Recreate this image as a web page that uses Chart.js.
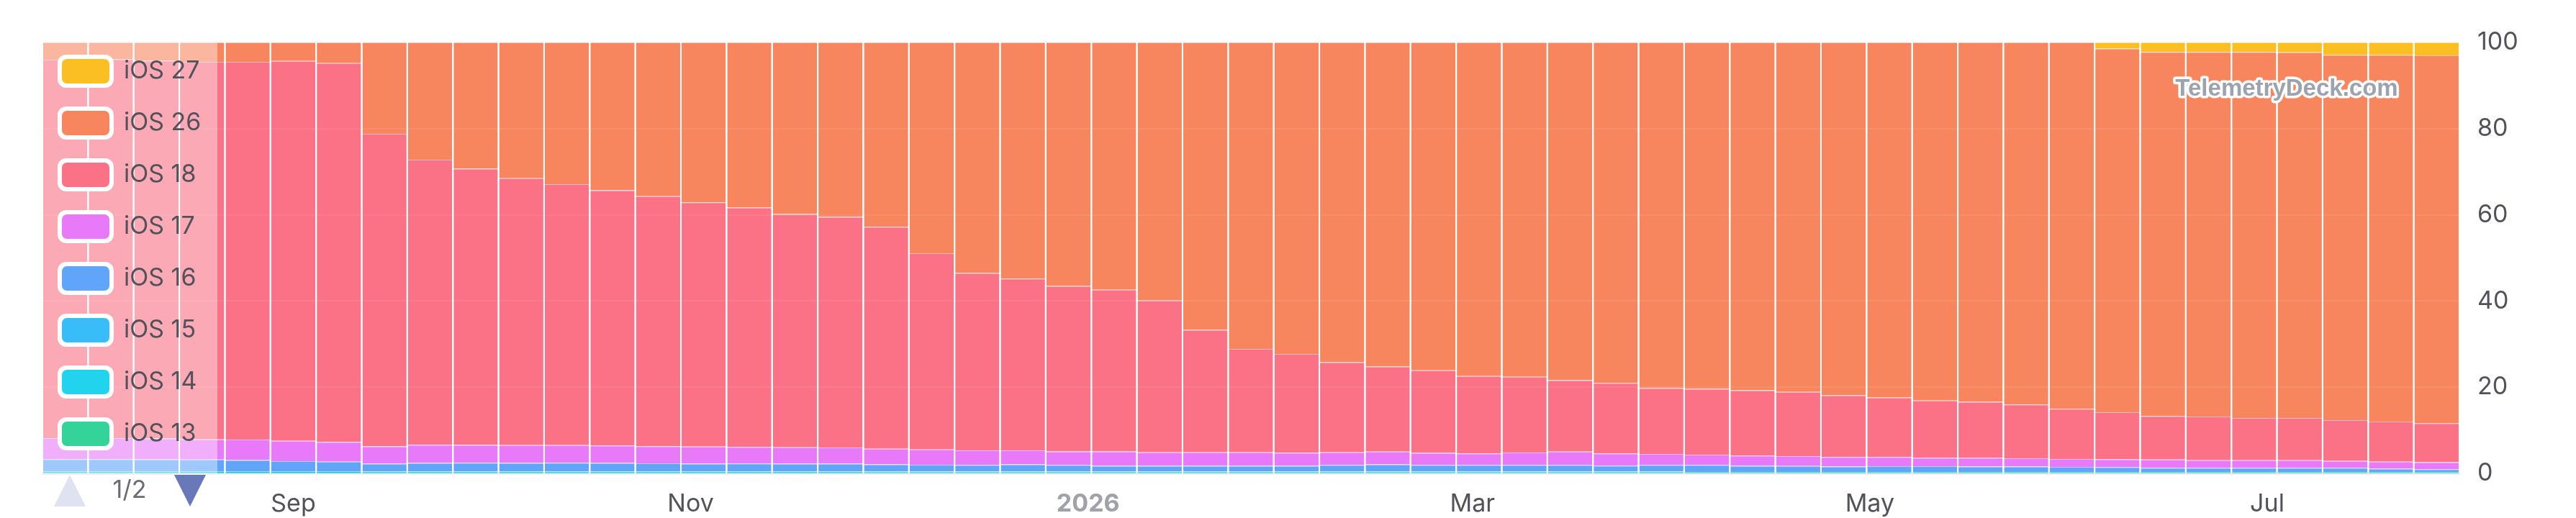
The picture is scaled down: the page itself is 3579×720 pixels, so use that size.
<!DOCTYPE html>
<html>
<head>
<meta charset="utf-8">
<title>iOS versions</title>
<script src="https://cdn.jsdelivr.net/npm/chart.js@4.4.1/dist/chart.umd.min.js"></script>
<style>
  html, body { margin: 0; padding: 0; background: #fff; }
  #wrap { width: 3579px; height: 720px; }
</style>
</head>
<body>
<div id="wrap"><canvas id="chartVersions" width="3579" height="720"></canvas></div>
<script>
// weekly buckets (week start, Monday)
const weeks = [
  "2025-07-28", "2025-08-04", "2025-08-11", "2025-08-18", "2025-08-25",
  "2025-09-01", "2025-09-08", "2025-09-15", "2025-09-22", "2025-09-29",
  "2025-10-06", "2025-10-13", "2025-10-20", "2025-10-27",
  "2025-11-03", "2025-11-10", "2025-11-17", "2025-11-24",
  "2025-12-01", "2025-12-08", "2025-12-15", "2025-12-22", "2025-12-29",
  "2026-01-05", "2026-01-12", "2026-01-19", "2026-01-26",
  "2026-02-02", "2026-02-09", "2026-02-16", "2026-02-23",
  "2026-03-02", "2026-03-09", "2026-03-16", "2026-03-23", "2026-03-30",
  "2026-04-06", "2026-04-13", "2026-04-20", "2026-04-27",
  "2026-05-04", "2026-05-11", "2026-05-18", "2026-05-25",
  "2026-06-01", "2026-06-08", "2026-06-15", "2026-06-22", "2026-06-29",
  "2026-07-06", "2026-07-13", "2026-07-20", "2026-07-27",
];

const xTickDates = ["2025-09-01", "2025-11-01", "2026-01-01", "2026-03-01", "2026-05-01", "2026-07-01"];
const xTickLabels = ["Sep", "Nov", "2026", "Mar", "May", "Jul"];
const yTicks = [0, 20, 40, 60, 80, 100];

// share in % per week
const ios27 = [
  0, 0, 0, 0, 0, 0, 0, 0, 0, 0,
  0, 0, 0, 0, 0, 0, 0, 0, 0, 0,
  0, 0, 0, 0, 0, 0, 0, 0, 0, 0,
  0, 0, 0, 0, 0, 0, 0, 0, 0, 0,
  0, 0, 0, 0, 0, 1.4, 2.2, 2.2, 2.2, 2.3,
  2.9, 2.9, 3.0,
];
const ios26 = [
  4.0, 3.9, 4.2, 4.5, 4.5, 4.3, 4.8, 21.2, 27.2, 29.3,
  31.5, 32.9, 34.3, 35.7, 37.1, 38.3, 39.8, 40.5, 42.8, 48.9,
  53.5, 54.8, 56.5, 57.4, 59.9, 66.7, 71.1, 72.3, 74.2, 75.2,
  76.1, 77.4, 77.6, 78.4, 79.0, 80.2, 80.4, 80.7, 81.1, 81.9,
  82.4, 83.1, 83.4, 84.0, 85.0, 84.4, 84.5, 84.6, 84.95, 84.85,
  84.75, 85.1, 85.35,
];
const ios18 = [
  87.8, 87.9, 87.7, 87.6, 87.65, 88.15, 87.9, 72.55, 66.15, 64.1,
  61.95, 60.55, 59.25, 58.0, 56.7, 55.55, 54.15, 53.5, 51.5, 45.55,
  41.15, 39.85, 38.4, 37.5, 35.2, 28.4, 24.0, 22.9, 20.9, 19.75,
  19.15, 17.95, 17.55, 16.55, 16.35, 15.3, 15.25, 15.15, 14.9, 14.3,
  13.8, 13.25, 12.95, 12.5, 11.65, 10.95, 10.1, 10.15, 9.8, 9.8,
  9.45, 9.3, 9.05,
];
const ios17 = [
  4.9, 4.9, 4.85, 4.7, 4.75, 4.7, 4.6, 4.0, 4.25, 4.15,
  4.15, 4.1, 4.05, 3.95, 3.95, 3.85, 3.8, 3.75, 3.6, 3.55,
  3.4, 3.25, 3.15, 3.35, 3.15, 3.15, 3.15, 3.05, 2.95, 2.95,
  2.8, 2.7, 2.9, 3.1, 2.85, 2.55, 2.4, 2.4, 2.3, 2.2,
  2.15, 2.0, 2.05, 1.9, 1.85, 1.8, 1.9, 1.75, 1.75, 1.75,
  1.6, 1.6, 1.65,
];
const ios16 = [
  2.8, 2.8, 2.75, 2.7, 2.6, 2.35, 2.2, 1.8, 1.95, 2.0,
  1.95, 2.0, 1.95, 1.9, 1.8, 1.85, 1.8, 1.8, 1.7, 1.6,
  1.55, 1.7, 1.55, 1.35, 1.35, 1.35, 1.35, 1.35, 1.55, 1.7,
  1.55, 1.55, 1.55, 1.55, 1.4, 1.55, 1.61, 1.41, 1.36, 1.26,
  1.31, 1.31, 1.26, 1.26, 1.16, 1.11, 0.96, 0.96, 0.96, 0.96,
  0.96, 0.76, 0.61,
];
const ios15 = [
  0.35, 0.35, 0.35, 0.35, 0.35, 0.35, 0.35, 0.3, 0.3, 0.3,
  0.3, 0.3, 0.3, 0.3, 0.3, 0.3, 0.3, 0.3, 0.28, 0.28,
  0.28, 0.28, 0.28, 0.28, 0.28, 0.28, 0.28, 0.28, 0.28, 0.28,
  0.28, 0.28, 0.28, 0.28, 0.28, 0.28, 0.25, 0.25, 0.25, 0.25,
  0.25, 0.25, 0.25, 0.25, 0.25, 0.25, 0.25, 0.25, 0.25, 0.25,
  0.25, 0.25, 0.25,
];
const ios14 = [
  0.1, 0.1, 0.1, 0.1, 0.1, 0.1, 0.1, 0.1, 0.1, 0.1,
  0.1, 0.1, 0.1, 0.1, 0.1, 0.1, 0.1, 0.1, 0.08, 0.08,
  0.08, 0.08, 0.08, 0.08, 0.08, 0.08, 0.08, 0.08, 0.08, 0.08,
  0.08, 0.08, 0.08, 0.08, 0.08, 0.08, 0.06, 0.06, 0.06, 0.06,
  0.06, 0.06, 0.06, 0.06, 0.06, 0.06, 0.06, 0.06, 0.06, 0.06,
  0.06, 0.06, 0.06,
];
const ios13 = [
  0.05, 0.05, 0.05, 0.05, 0.05, 0.05, 0.05, 0.05, 0.05, 0.05,
  0.05, 0.05, 0.05, 0.05, 0.05, 0.05, 0.05, 0.05, 0.04, 0.04,
  0.04, 0.04, 0.04, 0.04, 0.04, 0.04, 0.04, 0.04, 0.04, 0.04,
  0.04, 0.04, 0.04, 0.04, 0.04, 0.04, 0.03, 0.03, 0.03, 0.03,
  0.03, 0.03, 0.03, 0.03, 0.03, 0.03, 0.03, 0.03, 0.03, 0.03,
  0.03, 0.03, 0.03,
];

const DAY = 86400000;
const textColor = "#52525b";
const fontFamily = "Inter, 'Noto Sans', sans-serif";

Chart.defaults.font.family = fontFamily;
Chart.defaults.font.size = 34;
Chart.defaults.color = textColor;

// stacked bottom -> top
function series(label, data, color, edge) {
  return {
    label: label,
    data: data,
    backgroundColor: color,
    borderColor: edge,
    borderWidth: { top: 1 },
    borderSkipped: "start",
  };
}

// 🔥 legend overlay, pager and watermark
const sideLegend = {
  id: "sideLegend",
  afterDatasetsDraw(chart) {
    const { ctx, chartArea } = chart;
    ctx.save();
    ctx.fillStyle = "rgba(255,255,255,0.4)";
    ctx.fillRect(chartArea.left, chartArea.top, 243, chartArea.bottom - chartArea.top);
    ctx.restore();
  },
  afterDraw(chart) {
    const { ctx, chartArea } = chart;
    const left = chartArea.left;
    const sets = chart.data.datasets.slice().reverse();

    ctx.save();
    ctx.font = "34px " + fontFamily;
    ctx.textBaseline = "middle";
    sets.forEach((ds, i) => {
      const cy = chartArea.top + 40 + i * 72;
      ctx.fillStyle = "#fff";
      ctx.beginPath();
      ctx.roundRect(left + 21, cy - 23, 78, 46, 12);
      ctx.fill();
      ctx.fillStyle = ds.backgroundColor;
      ctx.beginPath();
      ctx.roundRect(left + 27, cy - 17, 66, 34, 7);
      ctx.fill();
      ctx.fillStyle = textColor;
      ctx.fillText(ds.label, left + 113, cy);
    });

    // pager 1/2
    const py = chartArea.bottom + 2;
    ctx.fillStyle = "#dfe2f0";
    ctx.beginPath();
    ctx.moveTo(left + 16, py + 44);
    ctx.lineTo(left + 60, py + 44);
    ctx.lineTo(left + 38, py);
    ctx.closePath();
    ctx.fill();
    ctx.fillStyle = "#6878b8";
    ctx.beginPath();
    ctx.moveTo(left + 183, py);
    ctx.lineTo(left + 227, py);
    ctx.lineTo(left + 205, py + 44);
    ctx.closePath();
    ctx.fill();
    ctx.fillStyle = "#6b6b73";
    ctx.textAlign = "center";
    ctx.fillText("1/2", left + 121, py + 22);

    // watermark
    ctx.font = "bold 33px 'Liberation Sans', Arial, sans-serif";
    ctx.lineJoin = "round";
    ctx.lineWidth = 7;
    ctx.strokeStyle = "#fff";
    ctx.strokeText("TelemetryDeck.com", chartArea.right - 240, chartArea.top + 65);
    ctx.fillStyle = "#9ca3af";
    ctx.fillText("TelemetryDeck.com", chartArea.right - 240, chartArea.top + 65);
    ctx.restore();
  },
};

const ctx = document.getElementById("chartVersions");

const chartVersions = new Chart(ctx, {
  type: "bar",
  data: {
    labels: weeks.map((w) => Date.parse(w)),
    datasets: [
      series("iOS 13", ios13, "#34D399", "#9AE9CC"),
      series("iOS 14", ios14, "#22D3EE", "#91E9F7"),
      series("iOS 15", ios15, "#38BDF8", "#9CDEFC"),
      series("iOS 16", ios16, "#60A5FA", "#B0D2FD"),
      series("iOS 17", ios17, "#E879F9", "#F3BCFC"),
      series("iOS 18", ios18, "#FB7185", "#FDB8C2"),
      series("iOS 26", ios26, "#F7865F", "#FBC2AF"),
      series("iOS 27", ios27, "#FBBF24", "#FDDF91"),
    ],
  },
  options: {
    responsive: false,
    animation: false,
    devicePixelRatio: 1,
    layout: { padding: { top: 59, left: 59, right: 0, bottom: 0 } },
    datasets: { bar: { barPercentage: 0.968, categoryPercentage: 1 } },
    plugins: {
      legend: { display: false },
      tooltip: { enabled: false },
    },
    scales: {
      x: {
        type: "linear",
        stacked: true,
        offset: false,
        bounds: "data",
        min: Date.parse(weeks[0]) - 3.5 * DAY,
        max: Date.parse(weeks[weeks.length - 1]) + 3.5 * DAY,
        afterBuildTicks: (s) => {
          s.ticks = xTickDates.map((d) => ({ value: Date.parse(d) }));
        },
        afterFit: (s) => {
          s.height = 62;
        },
        grid: { display: false, drawTicks: false, offset: false },
        border: { display: true, color: "#eef0f3", width: 3 },
        ticks: {
          autoSkip: false,
          maxRotation: 0,
          padding: 22,
          callback: (v, i) => xTickLabels[i],
          color: (c) => (c.index === 2 ? "#a1a1aa" : textColor),
          font: (c) => (c.index === 2 ? { size: 34, weight: "bold" } : { size: 34 }),
        },
      },
      y: {
        position: "right",
        stacked: true,
        min: 0,
        max: 100,
        afterBuildTicks: (s) => {
          s.ticks = yTicks.map((v) => ({ value: v }));
        },
        afterFit: (s) => {
          s.width = 162;
        },
        grid: { color: "rgba(255,255,255,0.08)", lineWidth: 2, drawTicks: false, z: 1 },
        border: { display: false },
        ticks: { padding: 25, color: textColor, font: { size: 34 } },
      },
    },
  },
  plugins: [sideLegend],
});
</script>
</body>
</html>
